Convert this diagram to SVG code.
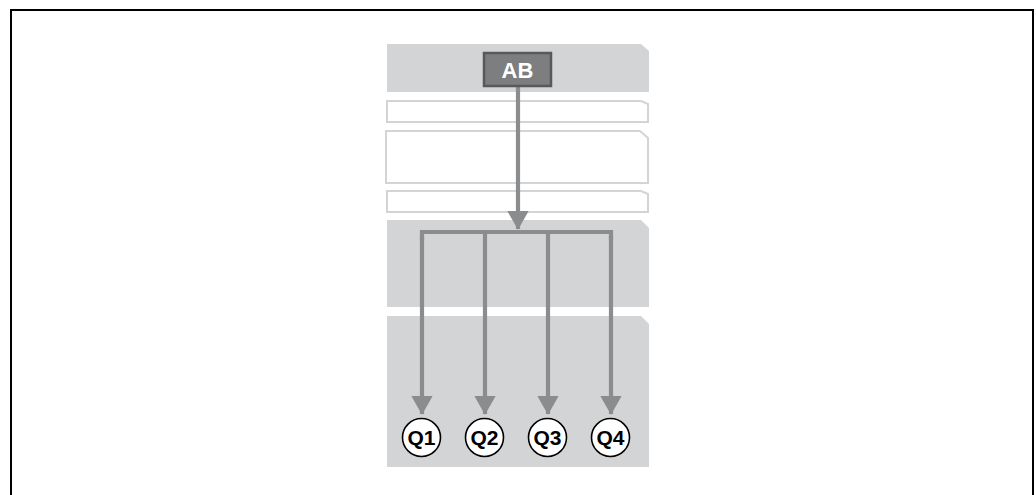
<svg xmlns="http://www.w3.org/2000/svg" width="1036" height="495" viewBox="0 0 1036 495">
<style>
.band{fill:#d3d4d6;stroke:none}
.oband{fill:#fff;stroke:#d3d4d6;stroke-width:2}
.conn{stroke:#8b8c8e;stroke-width:4.2;fill:none}
.q{fill:#fff;stroke:#000;stroke-width:1.6}
.qt{font-family:"Liberation Sans",Arial,sans-serif;font-weight:bold;font-size:21px;fill:#000;text-anchor:middle}
</style>
<defs>
<marker id="ah" markerWidth="4.6" markerHeight="5.2" refX="4.4" refY="2.6" orient="auto" markerUnits="strokeWidth">
<path d="M0,0 L4.6,2.6 L0,5.2 Z" fill="#8b8c8e"/>
</marker>
</defs>
<rect x="11" y="10" width="1022" height="490" fill="#fff" stroke="#000" stroke-width="2"/>
<g id="bands">
<path class="band" d="M387,44 H641 L649,51 V92 H387 Z"/>
<path class="oband" d="M387,101 H641 L648,104 V122 H387 Z"/>
<path class="oband" d="M386,131 H640 L648,138 V183 H386 Z"/>
<path class="oband" d="M387,191 H641 L648,194 V212 H387 Z"/>
<path class="band" d="M387,220 H641 L649,228 V307 H387 Z"/>
<path class="band" d="M387,316 H641 L649,324 V467 H387 Z"/>
</g>
<g id="connectors">
<line class="conn" x1="518" y1="87" x2="518" y2="229" marker-end="url(#ah)"/>
<polyline class="conn" points="422,240 422,232 611,232 611,240"/>
<line class="conn" x1="422" y1="236" x2="422" y2="414" marker-end="url(#ah)"/>
<line class="conn" x1="485" y1="232" x2="485" y2="414" marker-end="url(#ah)"/>
<line class="conn" x1="548" y1="232" x2="548" y2="414" marker-end="url(#ah)"/>
<line class="conn" x1="611" y1="236" x2="611" y2="414" marker-end="url(#ah)"/>
</g>
<g id="AB">
<rect x="484" y="53" width="67" height="33" fill="#7d7e80" stroke="#58595b" stroke-width="2.5"/>
<text x="517.5" y="77.5" font-family="'Liberation Sans',Arial,sans-serif" font-weight="bold" font-size="22" fill="#fff" text-anchor="middle">AB</text>
</g>
<g id="Q1"><circle class="q" cx="421.5" cy="437.5" r="19"/><text class="qt" x="421.5" y="445">Q1</text></g>
<g id="Q2"><circle class="q" cx="484.5" cy="437.5" r="19"/><text class="qt" x="484.5" y="445">Q2</text></g>
<g id="Q3"><circle class="q" cx="547.5" cy="437.5" r="19"/><text class="qt" x="547.5" y="445">Q3</text></g>
<g id="Q4"><circle class="q" cx="610.5" cy="437.5" r="19"/><text class="qt" x="610.5" y="445">Q4</text></g>
</svg>
